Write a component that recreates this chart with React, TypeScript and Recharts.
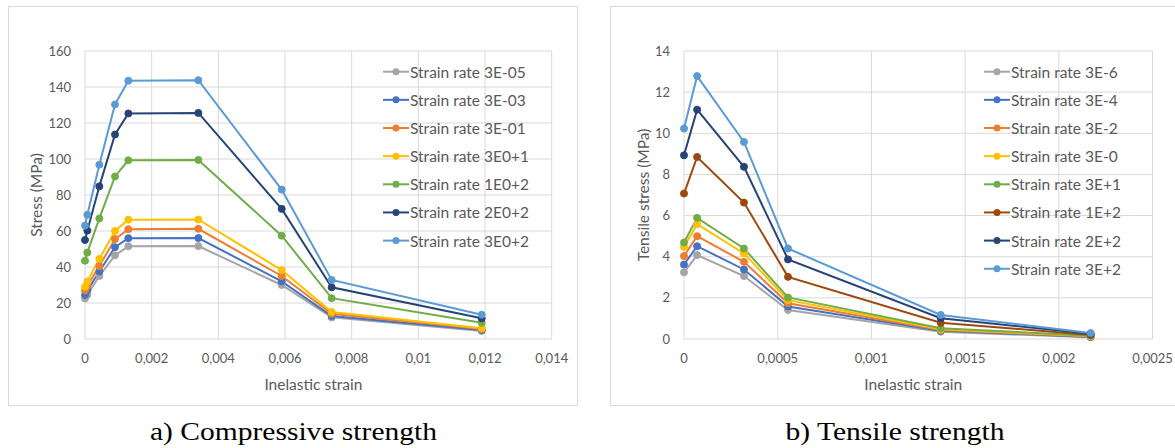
import React from 'react';
import { LineChart, Line, XAxis, YAxis, CartesianGrid } from 'recharts';

// ---------- Compressive strength (left) ----------
const compStrain = [0, 0.00007, 0.00043, 0.0009, 0.0013, 0.0034, 0.0059, 0.0074, 0.0119];
const compRate3Em05 = [22.5, 24.5, 35.0, 46.5, 51.5, 51.6, 30.0, 12.0, 4.5];
const compRate3Em03 = [24.5, 27.0, 37.5, 51.0, 56.0, 56.1, 32.0, 12.8, 5.0];
const compRate3Em01 = [27.0, 29.5, 40.5, 55.5, 61.0, 61.2, 35.0, 14.0, 5.5];
const compRate3E01 = [29.0, 32.0, 44.5, 60.0, 66.3, 66.4, 38.3, 15.0, 6.0];
const compRate1E02 = [43.5, 48.0, 67.0, 90.3, 99.3, 99.5, 57.4, 22.7, 9.0];
const compRate2E02 = [55.0, 60.2, 84.8, 113.6, 125.3, 125.6, 72.3, 28.7, 11.5];
const compRate3E02 = [63.0, 69.0, 96.8, 130.3, 143.5, 143.8, 83.0, 32.8, 13.5];
const compNames = [
  'Strain rate 3E-05',
  'Strain rate 3E-03',
  'Strain rate 3E-01',
  'Strain rate 3E0+1',
  'Strain rate 1E0+2',
  'Strain rate 2E0+2',
  'Strain rate 3E0+2',
];
const compColors = ['#A5A5A5', '#4472C4', '#ED7D31', '#FFC000', '#70AD47', '#264478', '#5B9BD5'];
const compXTicks = [0, 0.002, 0.004, 0.006, 0.008, 0.01, 0.012, 0.014];
const compYTicks = [0, 20, 40, 60, 80, 100, 120, 140, 160];

// ---------- Tensile strength (right) ----------
const tensStrain = [0, 0.00007, 0.00032, 0.000555, 0.00137, 0.00217];
const tensRate3Em6 = [3.24, 4.08, 3.06, 1.41, 0.35, 0.08];
const tensRate3Em4 = [3.62, 4.51, 3.38, 1.58, 0.4, 0.1];
const tensRate3Em2 = [4.03, 5.0, 3.75, 1.74, 0.44, 0.12];
const tensRate3E0 = [4.48, 5.58, 4.16, 1.89, 0.47, 0.14];
const tensRate3E1 = [4.69, 5.89, 4.4, 2.02, 0.52, 0.16];
const tensRate1E2 = [7.07, 8.85, 6.63, 3.02, 0.79, 0.2];
const tensRate2E2 = [8.93, 11.15, 8.37, 3.87, 1.01, 0.25];
const tensRate3E2 = [10.23, 12.78, 9.58, 4.4, 1.17, 0.29];
const tensNames = [
  'Strain rate 3E-6',
  'Strain rate 3E-4',
  'Strain rate 3E-2',
  'Strain rate 3E-0',
  'Strain rate 3E+1',
  'Strain rate 1E+2',
  'Strain rate 2E+2',
  'Strain rate 3E+2',
];
const tensColors = ['#A5A5A5', '#4472C4', '#ED7D31', '#FFC000', '#70AD47', '#9E480E', '#264478', '#5B9BD5'];
const tensXTicks = [0, 0.0005, 0.001, 0.0015, 0.002, 0.0025];
const tensYTicks = [0, 2, 4, 6, 8, 10, 12, 14];

const captions = ['a) Compressive strength', 'b) Tensile strength'];

const compSeries = [compRate3Em05, compRate3Em03, compRate3Em01, compRate3E01, compRate1E02, compRate2E02, compRate3E02];
const tensSeries = [tensRate3Em6, tensRate3Em4, tensRate3Em2, tensRate3E0, tensRate3E1, tensRate1E2, tensRate2E2, tensRate3E2];

function buildRows(xs: number[], series: number[][]) {
  return xs.map((x, i) => {
    const row: Record<string, number> = { x };
    series.forEach((s, k) => {
      row['s' + k] = s[i];
    });
    return row;
  });
}

const FONT = 'Lato, "Open Sans", sans-serif';
const TXT = '#595959';
const GRID = '#D9D9D9';

const fmt = (v: number) => String(v).replace('.', ',');

type Props = {
  left: number;
  width: number;
  xs: number[];
  series: number[][];
  names: string[];
  colors: string[];
  xTicks: number[];
  yTicks: number[];
  yLabel: string;
  marginLeft: number;
  marginRight: number;
  yLabelX: number;
  xLabelDx: number;
  legendX: number;
};

function Panel(p: Props) {
  const rows = buildRows(p.xs, p.series);
  const H = 410;
  return (
    <div style={{ position: 'absolute', left: p.left, top: 0, width: p.width, height: H }}>
      <LineChart
        width={p.width}
        height={H}
        data={rows}
        margin={{ top: 51, right: p.marginRight, bottom: 41, left: p.marginLeft }}
      >
        <CartesianGrid stroke={GRID} strokeWidth={1} />
        <XAxis
          type="number"
          dataKey="x"
          domain={[p.xTicks[0], p.xTicks[p.xTicks.length - 1]]}
          ticks={p.xTicks}
          tickFormatter={fmt}
          axisLine={false}
          tickLine={false}
          tickSize={0}
          tickMargin={15}
          height={30}
          tick={{ fill: TXT, fontSize: 13, fontFamily: FONT }}
          label={{
            content: (lp: any) => {
              const vb = lp.viewBox;
              return (
                <text
                  x={vb.x + vb.width / 2 + p.xLabelDx}
                  y={384}
                  textAnchor="middle"
                  dominantBaseline="central"
                  fill={TXT}
                  fontSize={15.5}
                  fontFamily={FONT}
                >
                  Inelastic strain
                </text>
              );
            },
          }}
        />
        <YAxis
          type="number"
          domain={[p.yTicks[0], p.yTicks[p.yTicks.length - 1]]}
          ticks={p.yTicks}
          axisLine={false}
          tickLine={false}
          tickSize={0}
          tickMargin={14}
          width={45}
          tick={{ fill: TXT, fontSize: 13, fontFamily: FONT }}
          label={{
            content: (lp: any) => {
              const vb = lp.viewBox;
              const cy = vb.y + vb.height / 2;
              return (
                <text
                  x={p.yLabelX}
                  y={cy}
                  textAnchor="middle"
                  dominantBaseline="central"
                  transform={`rotate(-90 ${p.yLabelX} ${cy})`}
                  fill={TXT}
                  fontSize={15.5}
                  fontFamily={FONT}
                >
                  {p.yLabel}
                </text>
              );
            },
          }}
        />
        {p.series.map((_, k) => (
          <Line
            key={k}
            type="linear"
            dataKey={'s' + k}
            name={p.names[k]}
            stroke={p.colors[k]}
            strokeWidth={2}
            dot={{ r: 3.5, fill: p.colors[k], stroke: p.colors[k], strokeWidth: 1 }}
            isAnimationActive={false}
          />
        ))}
      </LineChart>
      <svg
        width={p.width}
        height={H}
        style={{ position: 'absolute', left: 0, top: 0, pointerEvents: 'none' }}
      >
        {p.names.map((n, k) => {
          const y = 71.7 + k * 28.15;
          const x0 = p.legendX;
          return (
            <g key={k}>
              <line x1={x0} y1={y} x2={x0 + 26} y2={y} stroke={p.colors[k]} strokeWidth={2} />
              <circle cx={x0 + 13} cy={y} r={3.5} fill={p.colors[k]} />
              <text
                x={x0 + 27}
                y={y}
                dominantBaseline="central"
                fill={TXT}
                fontSize={15.5}
                fontFamily={FONT}
              >
                {n}
              </text>
            </g>
          );
        })}
      </svg>
    </div>
  );
}

export default function App() {
  return (
    <div
      style={{
        position: 'absolute',
        left: 0,
        top: 0,
        width: 1175,
        height: 448,
        background: '#fff',
        overflow: 'hidden',
      }}
    >
      <div
        style={{
          position: 'absolute',
          left: 8,
          top: 6,
          width: 570,
          height: 400,
          boxSizing: 'border-box',
          border: `1px solid ${GRID}`,
        }}
      />
      <div
        style={{
          position: 'absolute',
          left: 610,
          top: 6,
          width: 570,
          height: 400,
          boxSizing: 'border-box',
          border: `1px solid ${GRID}`,
        }}
      />
      <Panel
        left={0}
        width={590}
        xs={compStrain}
        series={compSeries}
        names={compNames}
        colors={compColors}
        xTicks={compXTicks}
        yTicks={compYTicks}
        yLabel="Stress (MPa)"
        marginLeft={40}
        marginRight={38.3}
        yLabelX={36}
        xLabelDx={-5}
        legendX={383}
      />
      <Panel
        left={600}
        width={575}
        xs={tensStrain}
        series={tensSeries}
        names={tensNames}
        colors={tensColors}
        xTicks={tensXTicks}
        yTicks={tensYTicks}
        yLabel="Tensile stress (MPa)"
        marginLeft={39}
        marginRight={22.5}
        yLabelX={43}
        xLabelDx={-5}
        legendX={384}
      />
      <svg width={1175} height={448} style={{ position: 'absolute', left: 0, top: 0, pointerEvents: 'none' }}>
        <text
          x={293.5}
          y={440}
          textAnchor="middle"
          fontFamily='"Liberation Serif", "Times New Roman", serif'
          fontSize={26}
          fill="#000"
          textLength={287}
          lengthAdjust="spacingAndGlyphs"
        >
          {captions[0]}
        </text>
        <text
          x={895}
          y={440}
          textAnchor="middle"
          fontFamily='"Liberation Serif", "Times New Roman", serif'
          fontSize={26}
          fill="#000"
          textLength={219}
          lengthAdjust="spacingAndGlyphs"
        >
          {captions[1]}
        </text>
      </svg>
    </div>
  );
}
